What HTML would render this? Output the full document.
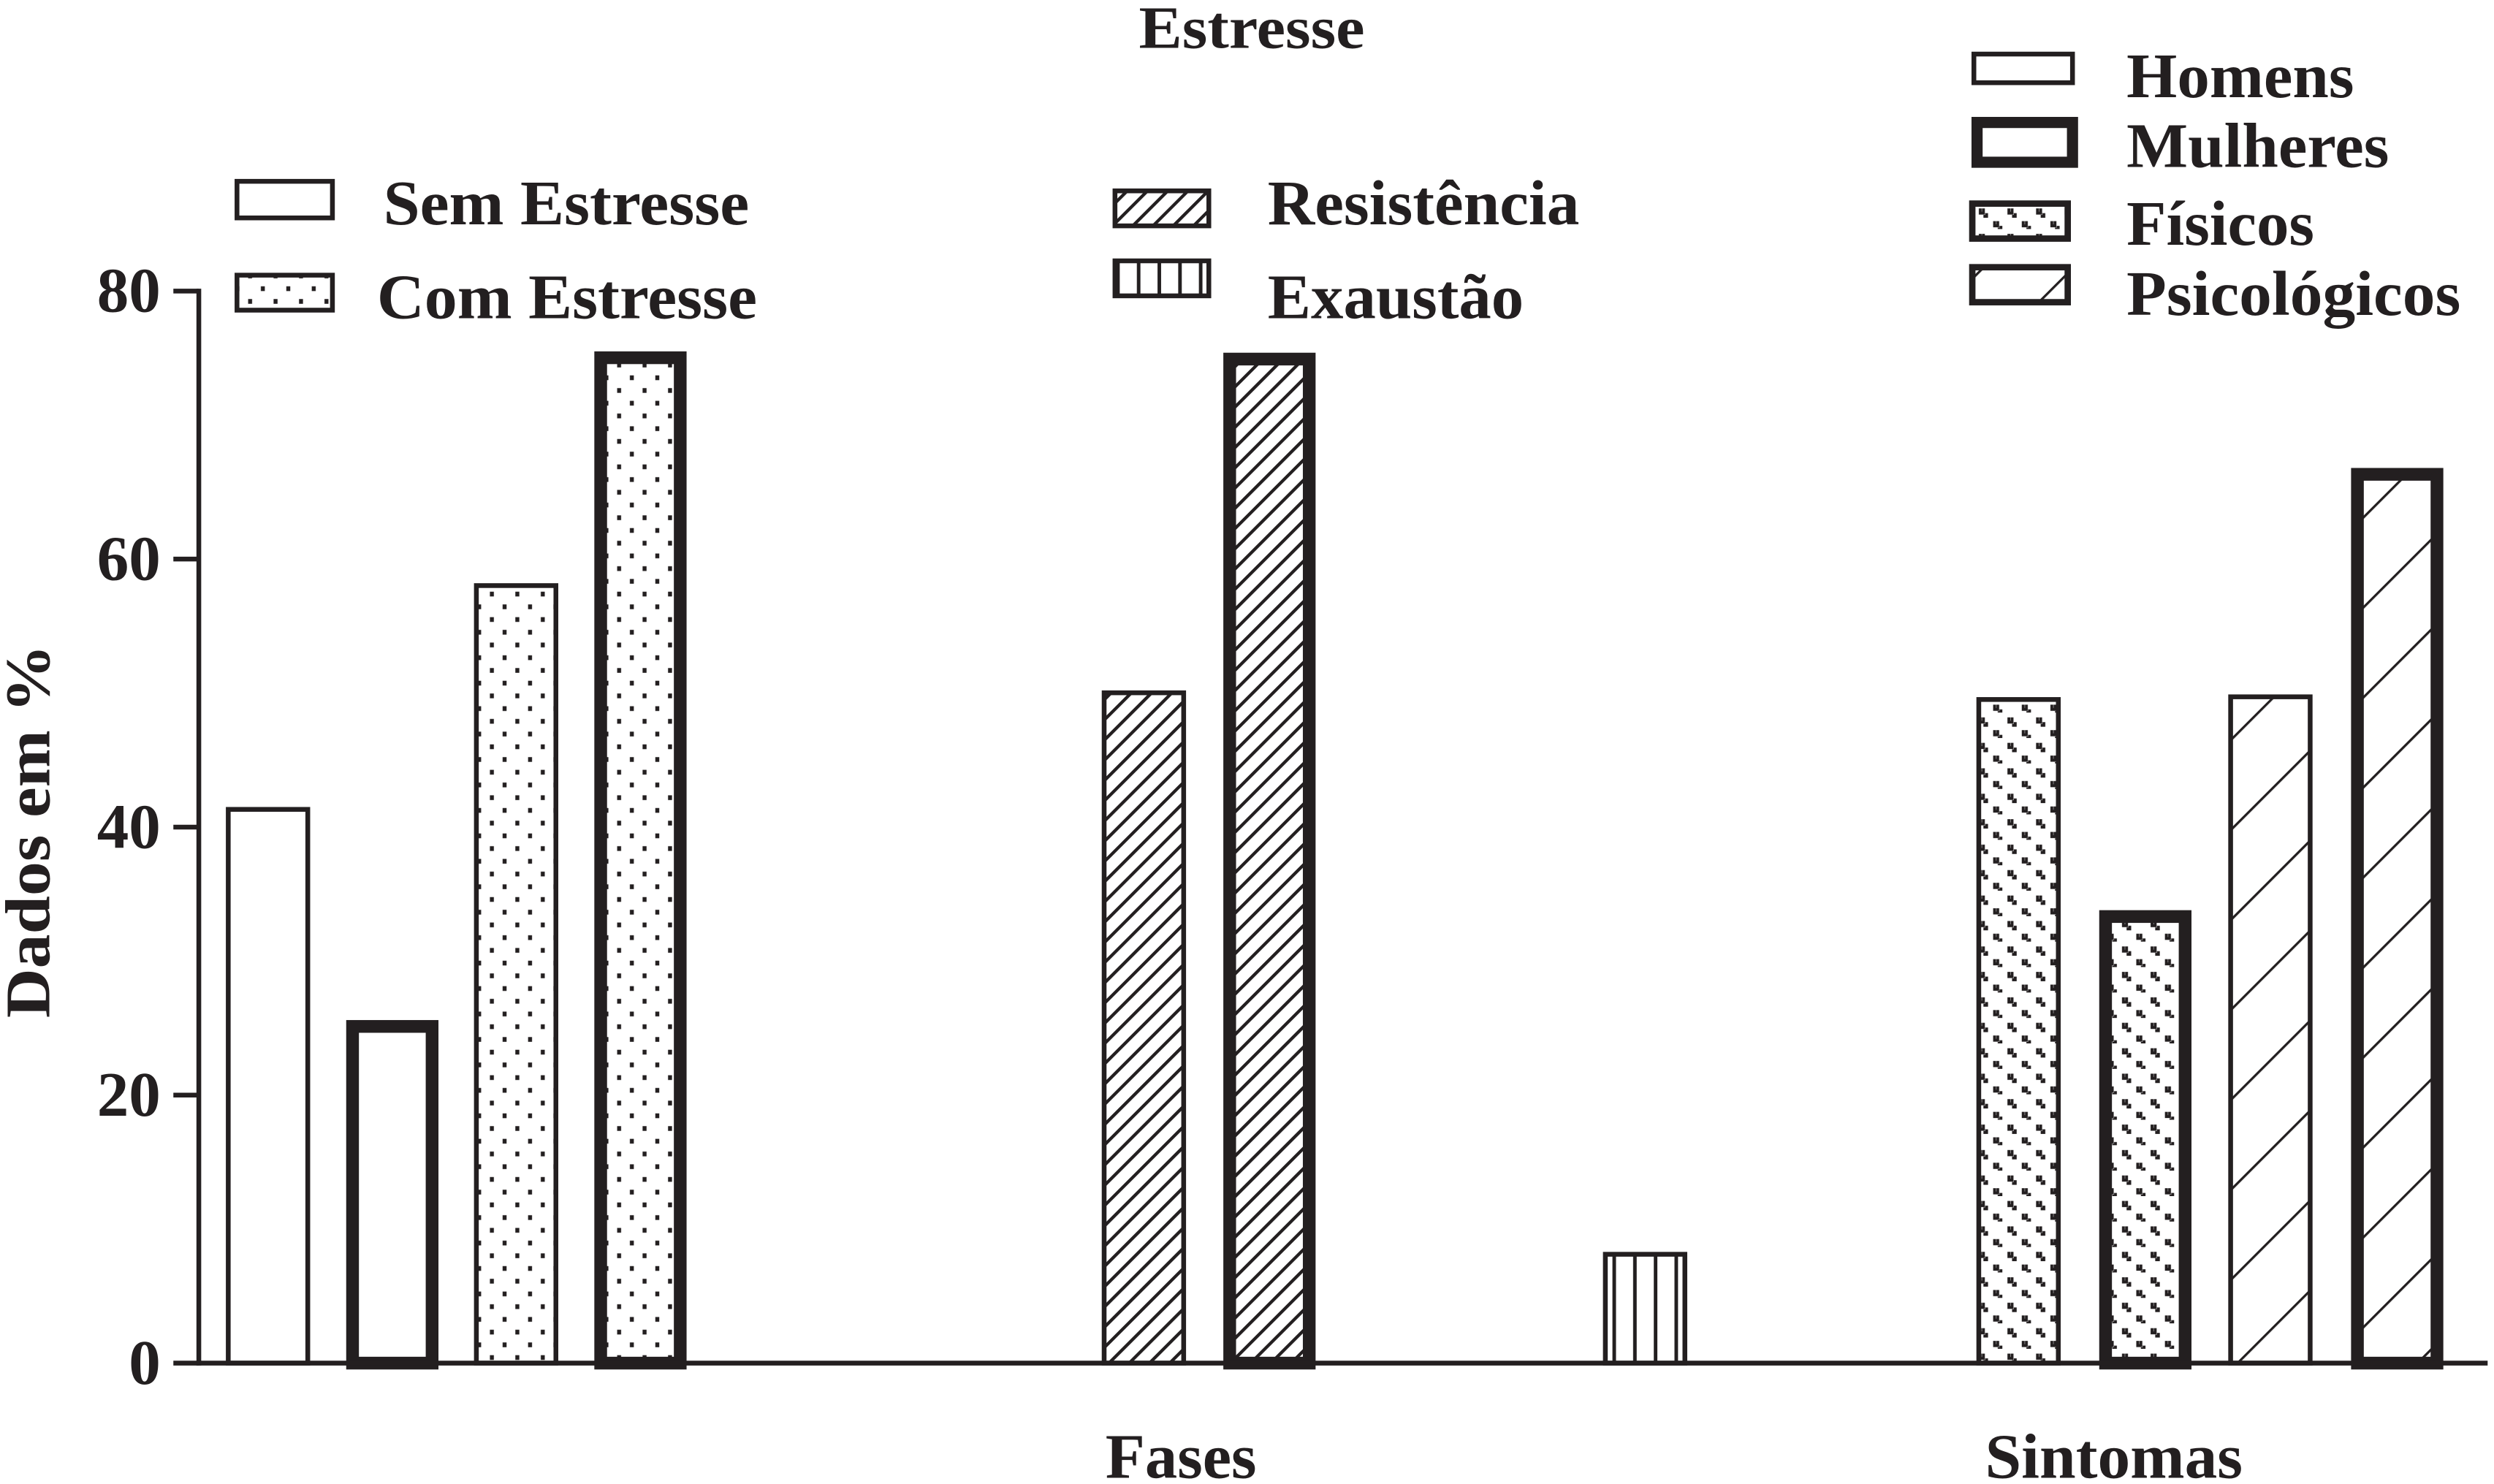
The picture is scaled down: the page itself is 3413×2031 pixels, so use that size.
<!DOCTYPE html>
<html><head><meta charset="utf-8"><style>
html,body{margin:0;padding:0;background:#fff;}
svg{display:block;}
text{font-family:"Liberation Serif",serif;font-weight:bold;fill:#231f20;}
</style></head><body>
<svg id="chart" width="3413" height="2031" viewBox="0 0 1568 933" preserveAspectRatio="none" xmlns="http://www.w3.org/2000/svg">
<defs>
<pattern id="dots" patternUnits="userSpaceOnUse" width="16" height="16"><rect x="4" y="4" width="2.5" height="3" fill="#231f20"/><rect x="12" y="12" width="2.5" height="3" fill="#231f20"/></pattern>
<pattern id="vdots" patternUnits="userSpaceOnUse" width="18" height="16"><path d="M3 3v3h2v-3M7 6v2h-2M12 11v3h2v-3M16 14v2h-2" stroke="#231f20" stroke-width="1.8" fill="none"/></pattern>
<pattern id="dense" patternUnits="userSpaceOnUse" width="9" height="9" patternTransform="rotate(45)"><line x1="0" y1="0" x2="0" y2="9" stroke="#231f20" stroke-width="4"/></pattern>
<pattern id="wide" patternUnits="userSpaceOnUse" width="40" height="40" patternTransform="rotate(45)"><line x1="0" y1="0" x2="0" y2="40" stroke="#231f20" stroke-width="3"/></pattern>
<pattern id="vert" patternUnits="userSpaceOnUse" width="13" height="10" x="2"><line x1="12" y1="0" x2="12" y2="10" stroke="#231f20" stroke-width="2.5"/></pattern>
</defs>
<g id="bars"></g>
<g id="axes"></g>
<text x="716" y="30" textLength="142" lengthAdjust="spacingAndGlyphs" font-size="38">Estresse</text>
<text transform="translate(31,640) rotate(-90)" textLength="235" lengthAdjust="spacingAndGlyphs" font-size="40">Dados em %</text>
<text x="695" y="929" textLength="95" lengthAdjust="spacingAndGlyphs" font-size="40">Fases</text>
<text x="1248" y="929" textLength="162" lengthAdjust="spacingAndGlyphs" font-size="40">Sintomas</text>
<g>
<rect x="149" y="114" width="60" height="23" fill="#fff" stroke="#231f20" stroke-width="3"/>
<text x="241" y="141" textLength="230" lengthAdjust="spacingAndGlyphs" font-size="40">Sem Estresse</text>
<rect x="149" y="173" width="60" height="22" fill="url(#dots)" stroke="#231f20" stroke-width="3"/>
<text x="237" y="200" textLength="239" lengthAdjust="spacingAndGlyphs" font-size="40">Com Estresse</text>
<rect x="701" y="120" width="59" height="22" fill="url(#dense)" stroke="#231f20" stroke-width="3"/>
<text x="797" y="141" textLength="196" lengthAdjust="spacingAndGlyphs" font-size="40">Resistência</text>
<rect x="701" y="164" width="59" height="22" fill="url(#vert)" stroke="#231f20" stroke-width="3"/>
<text x="797" y="200" textLength="161" lengthAdjust="spacingAndGlyphs" font-size="40">Exaustão</text>
<rect x="1241" y="34" width="62" height="18" fill="#fff" stroke="#231f20" stroke-width="3"/>
<text x="1337" y="61" textLength="143" lengthAdjust="spacingAndGlyphs" font-size="40">Homens</text>
<rect x="1243" y="77" width="60" height="25" fill="#fff" stroke="#231f20" stroke-width="7"/>
<text x="1337" y="105" textLength="165" lengthAdjust="spacingAndGlyphs" font-size="40">Mulheres</text>
<rect x="1240" y="128" width="60" height="22" fill="url(#vdots)" stroke="#231f20" stroke-width="4"/>
<text x="1337" y="154" textLength="118" lengthAdjust="spacingAndGlyphs" font-size="40">Físicos</text>
<rect x="1240" y="168" width="60" height="22" fill="url(#wide)" stroke="#231f20" stroke-width="4"/>
<text x="1337" y="198" textLength="210" lengthAdjust="spacingAndGlyphs" font-size="40">Psicológicos</text>
</g>
</svg>
<script>
const barNames = ["sem-homens","sem-mulheres","com-homens","com-mulheres","resistencia-homens","resistencia-mulheres","exaustao","fisicos-homens","fisicos-mulheres","psicologicos-homens","psicologicos-mulheres"];
const barValues = [41.5, 25.6, 58.2, 75.5, 50.2, 75.4, 8.3, 49.7, 33.8, 49.9, 66.8];
const barSlots = [0, 0.97, 2, 2.97, 7.06, 8.04, 11.1, 14.11, 15.1, 16.14, 17.13];
const barFills = ["#fff","#fff","url(#dots)","url(#dots)","url(#dense)","url(#dense)","url(#vert)","url(#vdots)","url(#vdots)","url(#wide)","url(#wide)"];
const barThick = [false,true,false,true,false,true,false,false,true,false,true];
const yTicks = [0, 20, 40, 60, 80];
const yLabels = ["0","20","40","60","80"];
const NS = "http://www.w3.org/2000/svg";
const X0 = 125, Y0 = 857, Y80 = 183;
function yScale(v){ return Y0 - (v/80)*(Y0-Y80); }
function xScale(s){ return 142 + s*78; }
const bars = document.getElementById('bars');
barValues.forEach((v,i)=>{
  const r = document.createElementNS(NS,'rect');
  const sw = barThick[i] ? 8 : 3;
  const outer = barThick[i] ? 58 : 53;
  r.setAttribute('x', xScale(barSlots[i]) + sw/2);
  r.setAttribute('y', yScale(v) + sw/2);
  r.setAttribute('width', outer - sw);
  r.setAttribute('height', Y0 - yScale(v) - sw/2);
  r.setAttribute('fill', barFills[i]);
  r.setAttribute('stroke', '#231f20');
  r.setAttribute('stroke-width', sw);
  
  
  bars.appendChild(r);
});
const axes = document.getElementById('axes');
function line(x1,y1,x2,y2,w,name){
  const l = document.createElementNS(NS,'line');
  l.setAttribute('x1',x1);l.setAttribute('y1',y1);l.setAttribute('x2',x2);l.setAttribute('y2',y2);
  l.setAttribute('stroke','#231f20');l.setAttribute('stroke-width',w);
  
  
  axes.appendChild(l);
}
line(X0, Y80-1.5, X0, Y0+1.5, 3, 'y-axis-line');
line(X0-1.5, Y0, 1564, Y0, 3, 'x-axis-line');
yTicks.forEach((t,i)=>{
  line(109, yScale(t), X0, yScale(t), 3, 'y-tick-' + t);
  const tx = document.createElementNS(NS,'text');
  tx.setAttribute('x', 101);
  tx.setAttribute('y', yScale(t) + 13);
  tx.setAttribute('text-anchor','end');
  tx.setAttribute('font-size','40');
  tx.textContent = yLabels[i];
  
  
  axes.appendChild(tx);
});
</script>
</body></html>
